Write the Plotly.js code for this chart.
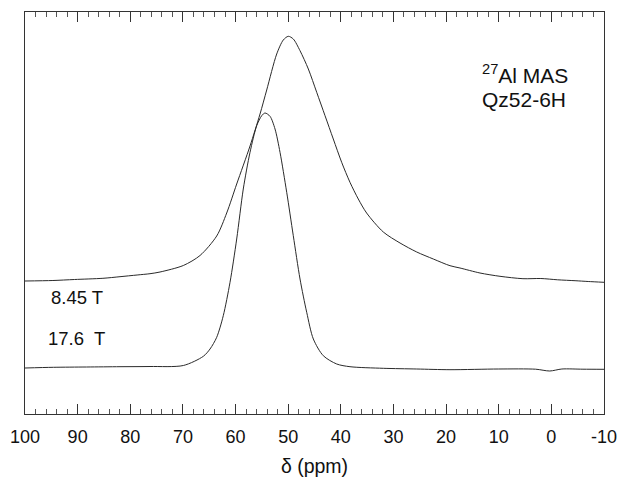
<!DOCTYPE html>
<html>
<head>
<meta charset="utf-8">
<script src="https://cdn.plot.ly/plotly-3.0.1.min.js"></script>
<style>html,body{margin:0;padding:0;background:#fff;}#chart{width:617px;height:483px;}</style>
</head>
<body>
<div id="chart"></div>
<script>
// Chemical shift (ppm) and intensity (arbitrary units)
var ppm845 = [100, 94.7, 90.6, 85.2, 81.95, 78.7, 76.25, 74.35, 69.92, 66.75, 63.58, 61.68, 59.78, 57.25, 55.35, 54.08, 52.18, 50.93, 49.98, 49.03, 47.75, 46.17, 44.58, 43.0, 41.43, 39.84, 38.26, 36.68, 35.1, 31.93, 28.75, 25.58, 22.43, 19.26, 17.36, 13.56, 9.76, 5.4, 2.0, -1.2, -4.5, -7.0, -10];
var int845 = [133, 133.5, 134.5, 135.7, 137.3, 139, 140.3, 142, 148.5, 158.5, 178, 201, 230, 268, 300, 324, 360, 374, 377.7, 375, 363.3, 345, 321.7, 298.3, 275, 251.7, 231.7, 215, 201, 182, 171, 162, 155, 148.3, 146, 141, 137.7, 135.3, 135.5, 134.2, 133.3, 132.5, 131.7];

var ppm176 = [100, 94.6, 88.3, 81.95, 76.25, 69.92, 66.12, 64.85, 63.58, 62.33, 61.05, 59.78, 58.53, 57.25, 55.98, 55.03, 54.4, 53.45, 52.5, 51.55, 50.28, 49.03, 47.75, 46.48, 45.22, 43.33, 40.78, 38.26, 31.93, 25.58, 19.26, 10, 3, 0.3, -2, -6, -10];
var int176 = [46, 46.7, 47, 47.3, 47.5, 48.5, 57.7, 65, 76.7, 98.3, 131.7, 175, 225, 261.7, 288.3, 298.3, 301, 297.7, 285, 261.7, 221.7, 178.3, 135, 101.7, 75, 58.3, 50, 47.3, 45.7, 45, 44.3, 45, 44.8, 43, 45, 44.8, 44.7];

var xTickVals = [100, 90, 80, 70, 60, 50, 40, 30, 20, 10, 0, -10];
var xTickText = ['100', '90', '80', '70', '60', '50', '40', '30', '20', '10', '0', '-10'];

var lineColor = '#2a2a2a';
var traces = [
  {x: ppm845, y: int845, type: 'scatter', mode: 'lines', line: {color: lineColor, width: 1, shape: 'spline', smoothing: 0.8}, hoverinfo: 'skip'},
  {x: ppm176, y: int176, type: 'scatter', mode: 'lines', line: {color: lineColor, width: 1, shape: 'spline', smoothing: 0.8}, hoverinfo: 'skip'}
];

var font = {family: 'Liberation Sans, Arial, sans-serif', color: '#111'};

var layout = {
  width: 617, height: 483,
  margin: {l: 25, r: 13, t: 12, b: 69, pad: 0},
  paper_bgcolor: '#fff', plot_bgcolor: '#fff',
  showlegend: false,
  font: font,
  xaxis: {
    range: [100, -10],
    tickvals: xTickVals, ticktext: xTickText,
    ticks: 'inside', ticklen: 10, tickwidth: 1, tickcolor: '#333',
    minor: {dtick: 2, ticks: 'inside', ticklen: 5, tickwidth: 1, tickcolor: '#555', showgrid: false},
    showline: true, linecolor: '#333', linewidth: 1, mirror: 'allticks',
    showgrid: false, zeroline: false,
    ticklabelstandoff: 6,
    ticklabeloverflow: 'allow',
    tickfont: {family: font.family, size: 18, color: '#111'},
    title: {text: 'δ (ppm)', font: {family: font.family, size: 19.5, color: '#111'}, standoff: 13}
  },
  yaxis: {
    range: [0, 402],
    showticklabels: false, ticks: '',
    showline: true, linecolor: '#333', linewidth: 1, mirror: true,
    showgrid: false, zeroline: false
  },
  annotations: [
    {xref: 'paper', yref: 'paper', x: 0.041, y: 0.291, xanchor: 'left', yanchor: 'middle', showarrow: false, text: '8.45 T', font: {family: font.family, size: 18.5, color: '#111'}},
    {xref: 'paper', yref: 'paper', x: 0.036, y: 0.189, xanchor: 'left', yanchor: 'middle', showarrow: false, text: '17.6\u00a0 T', font: {family: font.family, size: 18.5, color: '#111'}},
    {xref: 'paper', yref: 'paper', x: 0.785, y: 0.845, xanchor: 'left', yanchor: 'middle', showarrow: false, text: '<sup>27</sup>Al MAS', font: {family: font.family, size: 21, color: '#111'}},
    {xref: 'paper', yref: 'paper', x: 0.785, y: 0.782, xanchor: 'left', yanchor: 'middle', showarrow: false, text: 'Qz52-6H', font: {family: font.family, size: 21, color: '#111'}}
  ]
};

Plotly.newPlot('chart', traces, layout, {staticPlot: true, displayModeBar: false});
</script>
</body>
</html>
